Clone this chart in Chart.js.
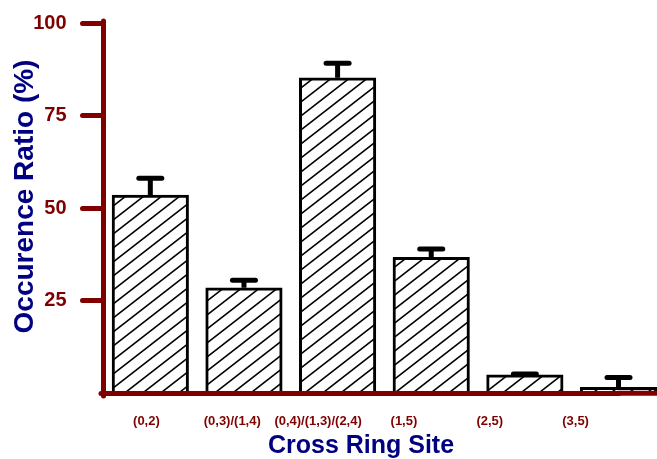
<!DOCTYPE html>
<html>
<head>
<meta charset="utf-8">
<script src="https://cdn.jsdelivr.net/npm/chart.js@4/dist/chart.umd.min.js"></script>
<style>
  html, body { margin: 0; padding: 0; background: #fff; }
  #wrap { width: 657px; height: 459px; position: relative; }
</style>
</head>
<body>
<div id="wrap"><canvas id="chart"></canvas></div>
<script>
// Cross ring cleavage sites and their occurrence ratios (%)
const sites = ['(0,2)', '(0,3)/(1,4)', '(0,4)/(1,3)/(2,4)', '(1,5)', '(2,5)', '(3,5)'];
const ratios = [53.5, 28.5, 85.2, 36.7, 5.0, 1.6];
const errors = [4.6, 2.0, 3.9, 2.3, 0.2, 2.7];
const yTicks = [25, 50, 75, 100];

const DARK_RED = '#800000';
const NAVY = '#000080';
const FONT = "'Liberation Sans', Arial, sans-serif";

// Diagonal "/" hatching on white for the bar fill
function makeHatch() {
  const w = 18, h = 14;
  const c = document.createElement('canvas');
  c.width = w; c.height = h;
  const g = c.getContext('2d');
  g.fillStyle = '#fff';
  g.fillRect(0, 0, w, h);
  g.strokeStyle = '#000';
  g.lineWidth = 1.6;
  for (let k = -1; k <= 1; k++) {
    g.beginPath();
    g.moveTo(-w, 2 * h + k * h);
    g.lineTo(2 * w, -h + k * h);
    g.stroke();
  }
  return g.createPattern(c, 'repeat');
}

const ctx = document.getElementById('chart').getContext('2d');

// Round ends on axis lines and tick marks
const roundCaps = {
  id: 'roundCaps',
  beforeDraw(chart) { chart.ctx.lineCap = 'round'; }
};

// Upper error bars (stem + cap) on each bar
const errorBars = {
  id: 'errorBars',
  afterDatasetsDraw(chart) {
    const { ctx, scales: { x, y } } = chart;
    ctx.save();
    ctx.strokeStyle = '#000';
    ctx.lineWidth = 5;
    ratios.forEach((v, i) => {
      const px = x.getPixelForValue(i);
      const base = y.getPixelForValue(v);
      const top = y.getPixelForValue(v + errors[i]);
      ctx.lineCap = 'butt';
      ctx.beginPath();
      ctx.moveTo(px, base);
      ctx.lineTo(px, top);
      ctx.stroke();
      ctx.lineCap = 'round';
      ctx.beginPath();
      ctx.moveTo(px - 11.5, top);
      ctx.lineTo(px + 11.5, top);
      ctx.stroke();
    });
    ctx.restore();
  }
};

// The baseline runs on past the last category to the edge of the canvas
const baselineRunOut = {
  id: 'baselineRunOut',
  afterDraw(chart) {
    const { ctx, chartArea, scales: { y } } = chart;
    const py = y.getPixelForValue(0);
    ctx.save();
    ctx.strokeStyle = DARK_RED;
    ctx.lineWidth = 5;
    ctx.lineCap = 'butt';
    ctx.beginPath();
    ctx.moveTo(chartArea.right - 1, py);
    ctx.lineTo(chart.width, py);
    ctx.stroke();
    ctx.restore();
  }
};

new Chart(ctx, {
  type: 'bar',
  data: {
    datasets: [{
      data: ratios.map((v, i) => ({ x: i, y: v })),
      xAxisID: 'x',
      yAxisID: 'y',
      backgroundColor: makeHatch(),
      borderColor: '#000',
      borderWidth: 3,
      borderSkipped: 'bottom',
      barThickness: 76.5,
      clip: false
    }]
  },
  options: {
    responsive: true,
    maintainAspectRatio: false,
    animation: false,
    devicePixelRatio: 1,
    layout: { padding: { top: 23, right: 38.5, bottom: 0, left: 0 } },
    plugins: {
      legend: { display: false },
      tooltip: { enabled: false }
    },
    scales: {
      x: {
        type: 'linear',
        min: -0.5,
        max: 5,
        offset: false,
        display: false
      },
      xl: {
        type: 'category',
        labels: sites,
        offset: true,
        position: 'bottom',
        grid: { display: false, drawTicks: false },
        border: { color: DARK_RED, width: 5, z: 1 },
        ticks: {
          color: DARK_RED,
          font: { family: FONT, size: 13, weight: 'bold' },
          padding: 20,
          maxRotation: 0,
          autoSkip: false
        },
        title: {
          display: true,
          text: 'Cross Ring Site',
          color: NAVY,
          font: { family: FONT, size: 25, weight: 'bold', lineHeight: 1 },
          padding: { top: 0, bottom: 0.5 }
        },
        afterFit(scale) { scale.height = 65.7; }
      },
      y: {
        type: 'linear',
        min: 0,
        max: 100,
        afterBuildTicks(scale) { scale.ticks = yTicks.map(v => ({ value: v })); },
        grid: {
          drawOnChartArea: false,
          lineWidth: 5,
          tickLength: 21,
          tickColor: DARK_RED
        },
        border: { color: DARK_RED, width: 5 },
        ticks: {
          color: DARK_RED,
          font: { family: FONT, size: 20, weight: 'bold' },
          padding: 16
        },
        title: {
          display: true,
          text: '   Occurence Ratio (%)',
          color: NAVY,
          font: { family: FONT, size: 28, weight: 'bold', lineHeight: 1 },
          padding: { top: 11, bottom: 0 }
        },
        afterFit(scale) {
          scale.width = 103.5;
          scale.paddingTop = 0;
          scale.paddingBottom = 0;
        }
      }
    }
  },
  plugins: [roundCaps, errorBars, baselineRunOut]
});
</script>
</body>
</html>
